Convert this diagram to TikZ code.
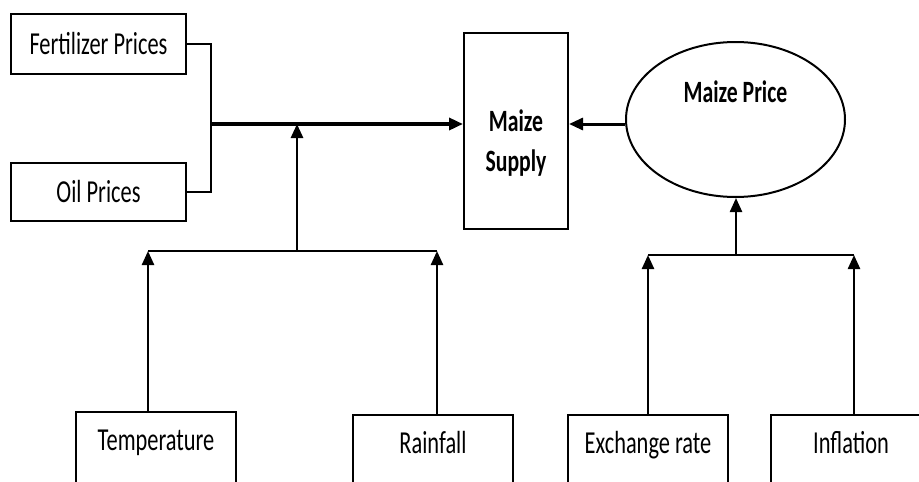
\documentclass[tikz,border=0pt]{standalone}
\usepackage{fontspec}
\setmainfont{Carlito}[FakeStretch=0.7]
\usetikzlibrary{arrows.meta,positioning,shapes.geometric}

\begin{document}
\begin{tikzpicture}[
		x=1pt,y=-1pt,
		font=\fontsize{32}{40}\selectfont,
		box/.style={draw,line width=2pt,inner sep=0pt},
		topbox/.style={box,minimum width=160pt,anchor=north,inner ysep=2pt,text height=36pt,text depth=70pt},
		link/.style={line width=2.4pt},
		arr/.style={link,-{Triangle[length=14pt,width=12pt]}}
	]
	\path[use as bounding box,clip] (0,0) rectangle (919,482);

	% inputs on the left
	\node[box,minimum width=175pt,minimum height=60pt] (fert) at (98.5,44) {Fertilizer Prices};
	\node[box,minimum width=175pt,minimum height=58pt] (oil) at (98.5,192) {Oil Prices};

	% supply and price
	\node[box,minimum width=104pt,minimum height=196pt] (supply) at (516,131) {};
	\node[font=\fontsize{31}{40}\selectfont\bfseries,align=center] (supplytext) at (516,143) {Maize\\Supply};
	\node[draw,ellipse,line width=2pt,minimum width=219pt,minimum height=155pt] (price) at (735.5,119.5) {};
	\node[font=\fontsize{31}{40}\selectfont\bfseries] (pricetext) at (735.5,92) {Maize Price};

	% drivers at the bottom
	\node[topbox] (temp) at (156,411) {Temperature};
	\node[topbox] (rain) at (433,414) {Rainfall};
	\node[topbox] (exch) at (648,414) {Exchange rate};
	\node[topbox] (infl) at (851,414) {Inflation};

	\coordinate (fork) at (211,124);
	\coordinate (lmid) at (297,251);
	\coordinate (rmid) at (736,255);

	\draw[link] (fert.east) -| (fork) |- (oil.east);
	\draw[arr,line width=3.4pt] (fork) -- (fork -| supply.west);
	\draw[arr,line width=3pt] (price.west |- fork) -- (fork -| supply.east);

	\draw[arr] ([xshift=-8pt]temp.north) -- ([xshift=-8pt]temp.north |- lmid);
	\draw[arr] ([xshift=4pt]rain.north) -- ([xshift=4pt]rain.north |- lmid);
	\draw[link] ([xshift=-8pt]temp.north |- lmid) -- ([xshift=4pt]rain.north |- lmid);
	\draw[arr,line width=2.8pt] (lmid) -- (lmid |- fork);

	\draw[arr] (exch.north) -- (exch.north |- rmid);
	\draw[arr] ([xshift=3pt]infl.north) -- ([xshift=3pt]infl.north |- rmid);
	\draw[link] (exch.north |- rmid) -- ([xshift=3pt]infl.north |- rmid);
	\draw[arr] (rmid) -- (rmid |- price.south);
\end{tikzpicture}
\end{document}
